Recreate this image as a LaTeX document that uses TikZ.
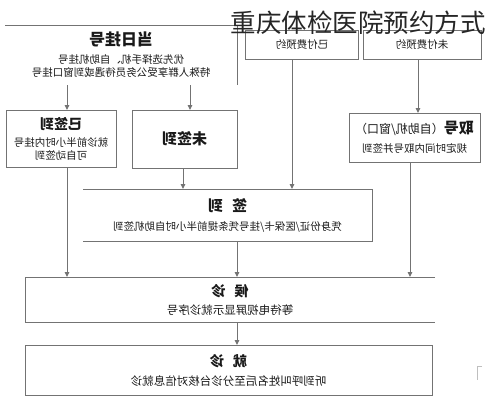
\documentclass[tikz,border=0pt]{standalone}
\usepackage{fontspec}
\setmainfont{Noto Sans CJK SC}
\usetikzlibrary{arrows.meta}

\newcommand\hd[2]{{\fontsize{#1}{#1}\selectfont\bfseries #2}}
\tikzset{
  box/.style={draw=black!55, line width=1pt, inner sep=0pt, outer sep=0pt,
    xscale=-1, align=center, text=black!90, font=\fontsize{10.5}{13}\selectfont},
  openbox/.style={box, draw=none},
  edge/.style={-, draw=black!55, line width=1pt},
}

\begin{document}
\begin{tikzpicture}[x=1pt, y=-1pt, -{Triangle[width=4.5pt,length=5pt]},
    draw=black!55, line width=1pt]
	\useasboundingbox (0,0) rectangle (486,400);

	\node[openbox, minimum width=232, minimum height=60] (today) at (121,55)
		{\hd{16}{当日挂号}\\[5pt] 优先选择手机、自助机挂号\\ 特殊人群享受公务员待遇或到窗口挂号};
	\node[box, minimum width=113, minimum height=29] (paid) at (302,44.5) {已付费预约};
	\node[box, minimum width=118, minimum height=29] (unpaid) at (422,44.5) {未付费预约};

	\node[box, minimum width=110, minimum height=57] (ysq) at (61,138.5)
		{\hd{14}{已签到}\\[4pt] 就诊前半小时内挂号\\ 可自动签到};
	\node[box, minimum width=105, minimum height=58] (nsq) at (184.5,139) {\hd{15}{未签到}};
	\node[box, minimum width=131, minimum height=49] (take) at (414.5,137.5)
		{\hd{15}{取号}{\fontsize{12}{12}\selectfont （自助机/窗口）}\\[6pt] 规定时间内取号并签到};

	\node[openbox, minimum width=289, minimum height=52] (sign) at (227.5,215)
		{\hd{15}{签\hspace{9pt}到}\\[6pt] 凭身份证/医保卡/挂号凭条提前半小时自助机签到};
	\node[openbox, minimum width=410, minimum height=45, font=\fontsize{11.5}{14}\selectfont] (wait) at (230,299.5)
		{\hd{14}{候\hspace{9pt}诊}\\[4pt] 等待电视屏显示就诊序号};
	\node[box, minimum width=407, minimum height=50, font=\fontsize{11.5}{14}\selectfont] (see) at (228.5,370)
		{\hd{14}{就\hspace{9pt}诊}\\[5pt] 听到呼叫姓名后至分诊台核对信息就诊};

	% open sides
	\draw[edge] (today.north east) -- (today.north west) -- (today.south west);
	\draw[edge] (sign.north east) -- (sign.north west) -- (sign.south west) -- (sign.south east);
	\draw[edge] (wait.north west) -- (wait.north east) -- (wait.south east) -- (wait.south west);

	\draw ([xshift=-54]today.south) -- ([xshift=6]ysq.north);
	\draw ([xshift=69]today.south) -- ([xshift=5.5]nsq.north);
	\draw ([xshift=-10]paid.south) -- ([xshift=64.5]sign.north);
	\draw ([xshift=-4]unpaid.south) -- ([xshift=3.5]take.north);
	\draw ([xshift=-1.5]nsq.south) -- ([xshift=-44.5]sign.north);
	\draw ([xshift=6]ysq.south) -- ([xshift=-163]wait.north);
	\draw ([xshift=-4.5]take.south) -- ([xshift=180]wait.north);
	\draw ([xshift=9.5]sign.south) -- ([xshift=7]wait.north);
	\draw ([xshift=7]wait.south) -- ([xshift=8.5]see.north);

	\draw[edge, black!25, line width=0.8pt] (482,366) -- (477,366) -- (477,380);

	\node[text=black!85] (title) at (358,23) {\fontsize{25.5}{26}\selectfont 重庆体检医院预约方式};
\end{tikzpicture}
\end{document}
